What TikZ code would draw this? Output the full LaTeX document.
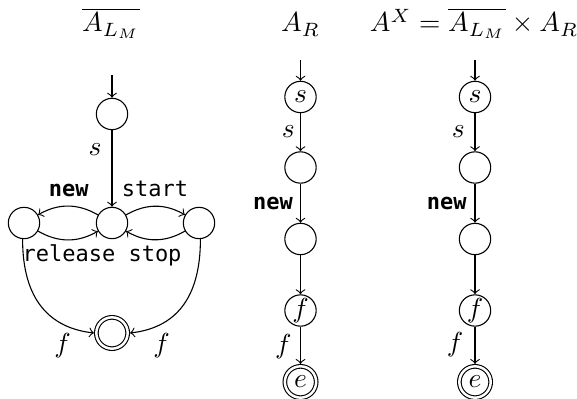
\documentclass[tikz,border=0pt]{standalone}
\usepackage{fontspec}
\newfontfamily\codefont{DejaVu Sans Mono}
\tikzset{
  stnode/.style={circle, draw, minimum size=11.4pt, inner sep=0pt},
  accnode/.style={stnode, double, double distance=0.9pt, outer sep=0.85pt},
  mlbl/.style={inner sep=0pt},
  codelbl/.style={inner sep=0pt, anchor=base, font=\codefont\fontsize{8}{9.6}\selectfont},
  trans/.style={->},
}
\begin{document}
\begin{tikzpicture}[x=0.3636pt, y=0.3636pt]
  \useasboundingbox (0,0) rectangle (577,-398);

  % titles
  \node[anchor=base, inner sep=0pt] (t1) at (111,-32) {$\overline{A_{L_M}}$};
  \node[anchor=base, inner sep=0pt] (t2) at (300.5,-32) {$A_R$};
  \node[anchor=base, inner sep=0pt] (t3) at (474,-32) {$A^X = \overline{A_{L_M}} \times A_R$};

  % complement automaton
  \coordinate (ai) at (112,-75);
  \node[stnode] (a0) at (112,-114) {};
  \node[stnode] (am) at (112,-223) {};
  \node[stnode] (al) at (24,-223) {};
  \node[stnode] (ar) at (199,-223) {};
  \node[accnode] (af) at (112,-333) {};
  \draw[trans] (ai) -- (a0);
  \draw[trans] (a0) -- (am);
  \node[mlbl] (ls) at (95,-150) {$s$};
  \draw[trans] (am) to[bend right=30] (al);
  \draw[trans] (al) to[bend right=30] (am);
  \draw[trans] (am) to[bend left=30] (ar);
  \draw[trans] (ar) to[bend left=30] (am);
  \node[codelbl] (lnew) at (68.7,-196.7) {\bfseries new};
  \node[codelbl] (lstart) at (155,-196.7) {start};
  \node[codelbl] (lrel) at (69,-261.7) {release};
  \node[codelbl] (lstop) at (155,-261.7) {stop};
  \draw[trans] (al.265) .. controls +(0,-61) and +(-44,5) .. (af.west);
  \draw[trans] (ar.275) .. controls +(0,-61) and +(44,5) .. (af.east);
  \node[mlbl] (lf1) at (62.5,-346) {$f$};
  \node[mlbl] (lf2) at (161.7,-346) {$f$};

  % requirement automaton
  \coordinate (bi) at (300.5,-60);
  \node[stnode] (b1) at (300.5,-97) {$s$};
  \node[stnode] (b2) at (300.5,-167.5) {};
  \node[stnode] (b3) at (300.5,-239) {};
  \node[stnode] (b4) at (300.5,-310.5) {$f$};
  \node[accnode] (b5) at (300.5,-382) {$e$};
  \draw[trans] (bi) -- (b1);
  \draw[trans] (b1) -- (b2);
  \draw[trans] (b2) -- (b3);
  \draw[trans] (b3) -- (b4);
  \draw[trans] (b4) -- (b5);
  \node[mlbl] (bs) at (288.3,-131.7) {$s$};
  \node[codelbl] (bnew) at (273,-210) {\bfseries new};
  \node[mlbl] (bf) at (283.3,-346.7) {$f$};

  % product automaton
  \coordinate (ci) at (475,-60);
  \node[stnode] (c1) at (475,-97) {$s$};
  \node[stnode] (c2) at (475,-167.5) {};
  \node[stnode] (c3) at (475,-239) {};
  \node[stnode] (c4) at (475,-310.5) {$f$};
  \node[accnode] (c5) at (475,-382) {$e$};
  \draw[trans] (ci) -- (c1);
  \draw[trans] (c1) -- (c2);
  \draw[trans] (c2) -- (c3);
  \draw[trans] (c3) -- (c4);
  \draw[trans] (c4) -- (c5);
  \node[mlbl] (cs) at (458.3,-131.7) {$s$};
  \node[codelbl] (cnew) at (446.7,-210) {\bfseries new};
  \node[mlbl] (cf) at (455,-345) {$f$};
\end{tikzpicture}
\end{document}
